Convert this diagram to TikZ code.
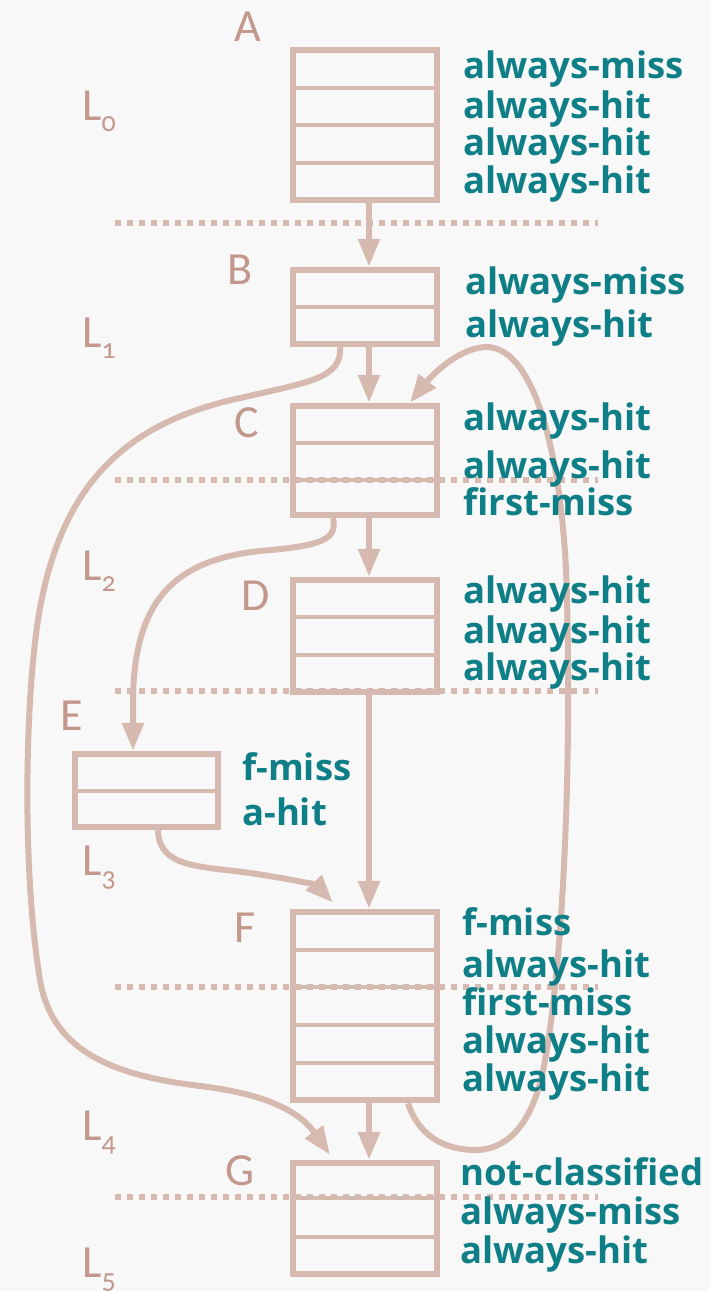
\documentclass[tikz,border=0pt]{standalone}
\usepackage{fontspec}
\setmainfont{Open Sans}
\newfontfamily\lblfont[Numbers=OldStyle]{Carlito}
\usetikzlibrary{arrows.meta}

\definecolor{boxc}{HTML}{D6BAB0}
\definecolor{cattext}{HTML}{0F7F87}
\definecolor{lblc}{HTML}{C3978B}
\definecolor{bgc}{HTML}{F8F8F8}

\begin{document}
\begin{tikzpicture}[x=1pt,y=-1pt,
  blk/.style={draw=boxc, line width=6.5pt, minimum width=144pt, inner sep=0pt, outer sep=3.25pt},
  rowln/.style={draw=boxc, line width=3.5pt},
  lvlline/.style={draw=boxc, line width=5.5pt, dash pattern=on 5.5pt off 6.5pt},
  arr/.style={draw=boxc, line width=6pt, -{Triangle[length=28pt,width=21pt]}},
  cls/.style={text=cattext, font=\bfseries\fontsize{36.5}{36.5}\selectfont, anchor=base west, inner sep=0pt},
  blkname/.style={text=lblc, font=\lblfont\fontsize{46}{46}\selectfont, inner sep=0pt},
  lvl/.style={text=lblc, font=\lblfont\fontsize{46}{46}\selectfont, anchor=base west, inner sep=0pt},
]
\fill[bgc] (0,0) rectangle (710,1291);
\useasboundingbox (0,0) rectangle (710,1291);

% level separators
\foreach \yy in {223,480,691,987,1197}
  \draw[lvlline] (115,\yy) -- (598,\yy);

% cache blocks
\node[blk, minimum height=150pt] (A) at (365,125) {};
\node[blk, minimum height=74pt]  (B) at (365,307) {};
\node[blk, minimum height=109pt] (C) at (365,460.5) {};
\node[blk, minimum height=112pt] (D) at (365,636) {};
\node[blk, minimum width=143pt, minimum height=73pt] (E) at (146.5,790.5) {};
\node[blk, minimum height=188pt] (F) at (365,1006) {};
\node[blk, minimum height=111pt] (G) at (365,1218.5) {};

% rows inside the blocks
\foreach \yy in {88,125,163,307,443,480,617,655,950,987,1025,1063,1198,1237}
  \draw[rowln] (295,\yy) -- (435,\yy);
\draw[rowln] (77,791) -- (216,791);

% straight edges
\draw[arr] ([xshift=4pt]A.south) -- ([xshift=4pt]B.north);
\draw[arr] ([xshift=4pt]B.south) -- ([xshift=4pt]C.north);
\draw[arr] ([xshift=4pt]C.south) -- ([xshift=4pt]D.north);
\draw[arr] ([xshift=4pt]D.south) -- ([xshift=4pt]F.north);
\draw[arr] ([xshift=4pt]F.south) -- ([xshift=4pt]G.north);

% B to G, round the left side
\draw[arr] ([xshift=-25pt]B.south) .. controls (342,378) and (310,382) .. (240,398)
  .. controls (130,422) and (60,480) .. (38,620)
  .. controls (25,705) and (22,870) .. (40,980)
  .. controls (52,1050) and (110,1075) .. (200,1086)
  .. controls (250,1092) and (295,1105) .. ([xshift=-35pt,yshift=5pt]G.north);

% C to E
\draw[arr] ([xshift=-32pt]C.south) .. controls (338,540) and (320,546) .. (260,551)
  .. controls (175,560) and (134,600) .. (133,700) -- ([xshift=-13.5pt]E.north);

% E to F
\draw[arr] ([xshift=11.5pt]E.south) .. controls (159,868) and (200,866) .. (250,873)
  .. controls (285,878) and (316,885) .. ([xshift=-32pt,yshift=6pt]F.north);

% back edge F to C, round the right side
\draw[arr] ([xshift=43pt]F.south) .. controls (420,1140) and (450,1150) .. (475,1150)
  .. controls (510,1150) and (535,1120) .. (545,1060)
  .. controls (560,980) and (572,800) .. (567,600)
  .. controls (565,480) and (540,345) .. (485,347)
  .. controls (455,349) and (428,380) .. ([xshift=45pt]C.north);

% block names
\node[blkname] (nA) at (248,27) {A};
\node[blkname] (nB) at (240,270) {B};
\node[blkname] (nC) at (247,423) {C};
\node[blkname] (nD) at (256,596) {D};
\node[blkname] (nE) at (72,716) {E};
\node[blkname] (nF) at (245,928) {F};
\node[blkname] (nG) at (240,1171) {G};

% levels
\newcommand{\lvsub}[1]{\raisebox{-11pt}{\fontsize{28}{28}\selectfont #1}}
\node[lvl] (L0) at (82,120) {L\lvsub{0}};
\node[lvl] (L1) at (82,347) {L\lvsub{1}};
\node[lvl] (L2) at (82,580) {L\lvsub{2}};
\node[lvl] (L3) at (82,875) {L\lvsub{3}};
\node[lvl] (L4) at (82,1140) {L\lvsub{4}};
\node[lvl] (L5) at (82,1277) {L\lvsub{5}};

% classifications
\node[cls] (a1) at (463,78)  {always-miss};
\node[cls] (a2) at (463,118) {always-hit};
\node[cls] (a3) at (463,155) {always-hit};
\node[cls] (a4) at (463,193) {always-hit};

\node[cls] (b1) at (465,294) {always-miss};
\node[cls] (b2) at (465,337) {always-hit};

\node[cls] (c1) at (463,430) {always-hit};
\node[cls] (c2) at (463,478) {always-hit};
\node[cls] (c3) at (463,515) {first-miss};

\node[cls] (d1) at (463,603) {always-hit};
\node[cls] (d2) at (463,643) {always-hit};
\node[cls] (d3) at (463,680) {always-hit};

\node[cls] (e1) at (242,780) {f-miss};
\node[cls] (e2) at (242,825) {a-hit};

\node[cls] (f1) at (462,935)  {f-miss};
\node[cls] (f2) at (462,977)  {always-hit};
\node[cls] (f3) at (462,1015) {first-miss};
\node[cls] (f4) at (462,1053) {always-hit};
\node[cls] (f5) at (462,1091) {always-hit};

\node[cls] (g1) at (460,1185) {not-classified};
\node[cls] (g2) at (460,1224) {always-miss};
\node[cls] (g3) at (460,1263) {always-hit};
\end{tikzpicture}
\end{document}
